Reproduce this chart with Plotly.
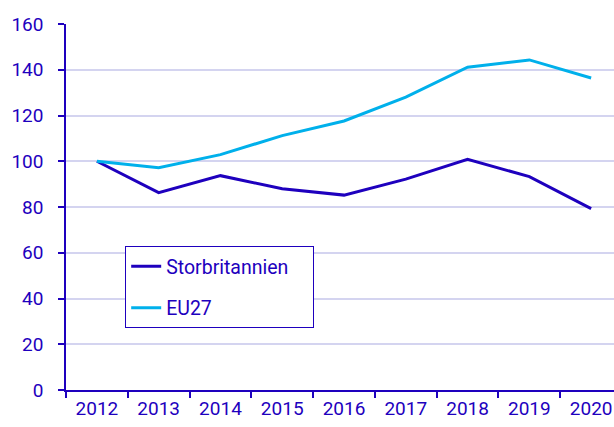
import plotly.graph_objects as go

years = ["2012", "2013", "2014", "2015", "2016", "2017", "2018", "2019", "2020"]
storbritannien = [100, 86.3, 93.7, 88.0, 85.2, 92.2, 100.8, 93.3, 79.3]
eu27 = [100, 97.2, 102.9, 111.2, 117.6, 128.0, 141.1, 144.3, 136.4]
y_ticks = [0, 20, 40, 60, 80, 100, 120, 140, 160]
series_names = ["Storbritannien", "EU27"]

DARK = "#1e00be"
LIGHT = "#00b0eb"
GRID = "#d4d4f0"
FONT = "Roboto"
FS = 19
PAD = "\u00a0" * 4

fig = go.Figure()
fig.add_trace(go.Scatter(x=years, y=storbritannien, mode="lines", name=series_names[0] + PAD,
                         line=dict(color=DARK, width=3), legendgroup="a"))
fig.add_trace(go.Scatter(x=years, y=eu27, mode="lines", name=series_names[1],
                         line=dict(color=LIGHT, width=3), legendgroup="b"))

fig.update_layout(
    width=614, height=427,
    margin=dict(l=66, r=0, t=24, b=37),
    paper_bgcolor="white", plot_bgcolor="white",
    font=dict(family=FONT, size=FS, color=DARK),
    showlegend=True,
    legend=dict(x=0.108, y=0.393, xanchor="left", yanchor="top",
                bordercolor=DARK, borderwidth=1, bgcolor="white",
                font=dict(family=FONT, size=19.5, color=DARK),
                traceorder="grouped", tracegroupgap=13),
    xaxis=dict(type="category", range=[-0.5, 8.37], showgrid=False, automargin=False,
               showline=True, linecolor=DARK, linewidth=1.5,
               ticks="outside", tickson="boundaries", ticklen=6, tickcolor=DARK,
               tickwidth=1.5, tickfont=dict(size=FS, color=DARK)),
    yaxis=dict(range=[0, 160], tickvals=y_ticks, showgrid=True, gridcolor=GRID, gridwidth=1.5,
               showline=True, linecolor=DARK, linewidth=1.5, automargin=False,
               ticks="outside", ticklen=6, tickcolor=DARK, tickwidth=1.5,
               ticklabelstandoff=11,
               zeroline=False, tickfont=dict(size=FS, color=DARK)),
)

fig.write_html(
    "out.html",
    config={"displayModeBar": False},
    post_script="document.body.style.margin='0';document.body.style.overflow='hidden';",
)
